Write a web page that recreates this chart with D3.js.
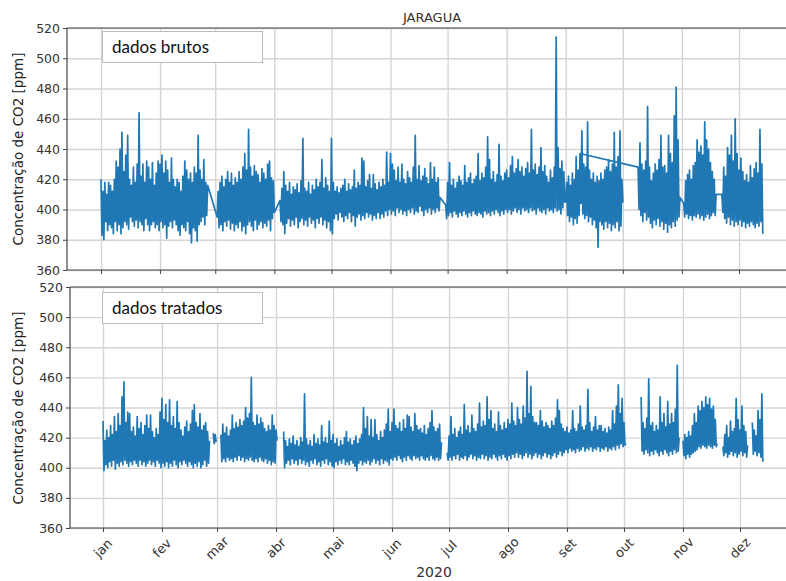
<!DOCTYPE html>
<html>
<head>
<meta charset="utf-8">
<script src="https://cdnjs.cloudflare.com/ajax/libs/d3/7.8.5/d3.min.js"></script>
<style>
body { margin: 0; background: #fff; }
svg { display: block; }
</style>
</head>
<body>
<script>
var monthLabels = ['jan', 'fev', 'mar', 'abr', 'mai', 'jun', 'jul', 'ago', 'set', 'out', 'nov', 'dez'];
var yTicks = [360, 380, 400, 420, 440, 460, 480, 500, 520];
var title = 'JARAGUA';
var yLabel = 'Concentração de CO2 [ppm]';
var yearLabel = '2020';
var boxLabels = ['dados brutos', 'dados tratados'];

// each block: start day of year (0 = 1 jan), then one value every 12 h
// raw blocks are drawn in the order they were recorded
var rawStarts = [0, 61, 94, 181, 252, 244, 282, 306, 326];
var rawJanFev = [420,383,412,380,418,392,410,386,418,390,416,388,412,384,420,392,432,386,428,390,440,384,451,388,425,392,436,390,449,387,420,395,416,392,428,389,418,393,430,388,464,392,422,390,430,386,418,394,432,390,428,386,420,390,431,392,416,388,424,390,432,386,
  430,392,436,388,424,390,432,381,426,389,418,392,434,388,420,393,415,390,420,386,418,383,412,390,422,388,432,386,426,392,420,384,424,378,418,388,428,386,424,379,449,390,426,392,420,395,433,390,418,396,416];
var rawMar = [395,412,388,418,390,422,386,415,392,420,389,425,393,418,387,424,391,416,386,421,390,418,388,425,392,420,386,428,389,437,384,426,390,453,392,428,389,422,386,429,393,425,387,423,390,418,392,427,388,424,391,420,389,430,393,432,386,421,394,419,398];
var rawAbrJun = [406,392,414,390,425,384,416,391,412,394,418,389,410,393,415,390,413,395,417,388,411,392,419,394,447,390,414,393,412,389,418,395,410,391,416,393,413,388,420,394,415,391,418,395,433,390,414,393,421,388,416,392,412,386,447,384,
  418,394,412,397,415,393,411,398,414,395,416,392,420,396,412,394,417,398,413,392,415,396,426,389,414,395,418,397,416,393,434,396,432,394,415,398,419,395,423,397,414,393,423,396,417,394,413,398,418,394,415,397,420,395,416,399,438,396,418,400,
  437,397,430,399,426,396,419,401,428,398,418,400,430,397,420,399,417,396,425,400,421,398,418,401,428,397,449,399,420,398,429,402,419,399,422,396,427,400,421,398,417,401,431,397,420,400,428,398,418,401,421,399,408];
var rawJulAgo = [403,394,418,396,431,398,416,395,420,399,414,397,418,395,422,398,419,396,416,399,429,397,418,395,421,398,424,396,417,399,420,397,422,396,437,398,419,397,424,395,421,399,428,397,448,398,433,396,420,399,425,397,418,400,423,398,443,396,422,399,419,397,424,400,
  426,398,421,400,429,397,435,399,424,401,427,398,433,400,425,397,428,401,422,399,427,400,431,398,424,401,453,399,426,400,430,397,423,401,428,399,441,398,425,400,429,397,422,401,418,399,426,400,421,398,428,401,514,399,441,400,427,397,432,401,425,405];
var rawSetB = [404,452,397,430,394,428,396,458,392,426,395,420,390,424,393,418,388,422,375,419,392,424,390,420,387,426,392,428,388,433,391,425,386,430,390,451,388,428,392,435,386,452,389,420,405];
var rawSetA = [405,418,396,422,392,416,395,424,390,420,394,435,391,426,396,437];
var rawOut = [428,400,444,396,430,392,426,398,432,393,468,395,428,391,419,388,424,393,430,390,426,394,433,389,449,392,428,387,429,391,424,385,449,390,437,388,431,392,462,389,481,393,446,395,408];
var rawNov = [404,395,419,397,423,394,426,396,420,393,429,396,431,395,446,397,438,394,442,396,436,393,458,395,446,397,440,394,431,396,425,398,420,396,410];
var rawNovDez = [410,398,428,394,422,391,441,395,436,390,449,393,432,389,460,392,437,390,426,393,434,389,425,392,419,388,423,391,418,389,429,392,421,390,427,388,431,391,424,389,453,392,430,384];

var cleanStarts = [0, 58, 62, 95, 181, 283, 305, 326, 341.5];
var cleanJanFev = [431,398,418,402,425,400,420,404,428,401,422,405,434,399,424,403,436,401,428,404,447,402,457,405,430,403,437,401,436,404,424,402,427,405,421,403,434,401,426,405,430,402,422,404,428,401,435,403,426,405,435,402,424,404,420,401,426,405,422,403,437,400,
  446,403,432,401,442,404,430,400,445,403,428,401,434,405,426,402,444,400,430,404,425,402,421,405,427,403,431,401,424,404,429,402,438,400,442,403,430,401,427,404,436,400,425,402,428,405,430,401,424,403,418];
var cleanFevEnd = [423,416,422,417];
var cleanMar = [422,404,429,406,423,404,427,407,421,405,425,406,435,404,426,407,430,405,427,408,432,405,428,407,431,404,440,406,433,405,436,407,460,405,430,404,428,406,435,404,429,407,433,405,430,404,426,406,424,403,428,405,425,402,435,404,428,403,425,418];
var cleanAbrJun = [424,400,418,403,414,405,419,402,416,406,421,403,415,405,418,402,414,406,420,403,417,405,449,402,419,404,415,401,418,405,414,403,422,406,416,402,419,404,415,401,428,405,417,403,420,406,416,402,431,404,418,401,422,400,
  416,404,419,402,414,405,418,403,415,406,420,402,424,404,417,402,419,405,415,403,418,401,421,398,416,403,419,405,422,402,440,404,426,403,434,405,421,402,432,404,420,406,432,403,422,405,418,402,424,406,420,403,425,405,429,404,439,402,424,406,
  430,405,439,407,428,405,426,408,430,406,424,404,432,407,426,405,435,408,434,406,427,405,424,408,436,406,428,407,425,405,426,408,423,406,428,405,422,407,426,405,430,408,438,406,427,405,424,407,426,405,429,406,417];
var cleanJulSet = [410,405,421,407,434,405,422,408,426,406,420,409,424,405,427,407,422,406,442,408,425,405,428,407,423,409,435,406,426,408,424,405,429,407,443,406,427,409,431,406,428,408,447,405,432,407,438,406,426,409,429,407,424,405,437,408,428,406,425,409,430,407,426,405,
  432,408,429,406,443,409,431,407,428,410,440,407,432,409,429,406,441,408,433,410,464,407,436,409,454,406,434,408,430,410,430,407,428,409,438,406,431,408,427,410,430,407,428,409,426,406,431,408,428,410,433,407,445,409,438,411,429,408,426,410,
  424,412,427,410,423,413,425,411,438,412,426,410,424,413,429,411,441,412,427,414,425,411,428,413,452,412,430,414,424,411,427,413,434,412,425,414,428,411,428,413,424,412,426,414,423,411,427,413,425,412,438,414,429,412,441,415,455,413,436,416,446,414,430,415,416];
var cleanOut = [447,411,430,409,426,412,433,410,459,408,428,411,430,409,424,412,428,410,425,408,447,411,430,409,436,412,427,410,444,408,429,411,436,409,430,412,439,410,468,411,420];
var cleanNov = [418,408,422,406,420,409,424,407,421,409,428,410,436,411,430,412,441,414,438,413,444,415,440,414,447,413,442,415,446,414,439,413,441,415,432,414,416];
var cleanNovDez = [414,408,422,410,428,407,420,409,431,411,424,408,426,410,446,407,432,409,425,411,441,408,428,410,424,407,415];
var cleanDez = [430,409,425,411,421,408,438,410,432,407,449,404];

var rawBlocks = [rawJanFev, rawMar, rawAbrJun, rawJulAgo, rawSetB, rawSetA, rawOut, rawNov, rawNovDez];
var cleanBlocks = [cleanJanFev, cleanFevEnd, cleanMar, cleanAbrJun, cleanJulSet, cleanOut, cleanNov, cleanNovDez, cleanDez];

var svgWidth = 786;
var svgHeight = 581;
var day0 = Date.UTC(2020, 0, 1);
var dayMs = 86400000;

function toPoints(starts, blocks) {
  return blocks.map(function(vals, b) {
    return vals.map(function(v, i) {
      return {date: new Date(day0 + (starts[b] + i / 2) * dayMs), value: v};
    });
  });
}

var rawSeries = [[].concat.apply([], toPoints(rawStarts, rawBlocks))];
var cleanSeries = toPoints(cleanStarts, cleanBlocks);

var svg = d3.select('body').append('svg')
  .attr('width', svgWidth)
  .attr('height', svgHeight)
  .style('font-family', 'DejaVu Sans, sans-serif');

var panels = [
  {left: 67, top: 28, bottom: 270, x0: 101, x1: 739, series: rawSeries, box: boxLabels[0], boxY: 31, labels: false, labelY: 149},
  {left: 70, top: 287, bottom: 528, x0: 103, x1: 740, series: cleanSeries, box: boxLabels[1], boxY: 292, labels: true, labelY: 408}
];

var months = d3.utcMonths(new Date(day0), new Date(Date.UTC(2020, 11, 2)));

panels.forEach(function(p) {
  var xScale = d3.scaleUtc()
    .domain([new Date(day0), new Date(Date.UTC(2020, 11, 1))])
    .range([p.x0, p.x1]);
  var yScale = d3.scaleLinear()
    .domain([360, 520])
    .range([p.bottom, p.top]);

  // grid
  svg.append('g')
    .attr('transform', 'translate(' + p.left + ',0)')
    .call(d3.axisLeft(yScale).tickValues(yTicks).tickSize(-(svgWidth - p.left)).tickFormat(''))
    .call(function(g) { g.select('.domain').remove(); })
    .selectAll('line').attr('stroke', '#d4d4d4').attr('stroke-width', 1.4);
  svg.append('g')
    .attr('transform', 'translate(0,' + p.bottom + ')')
    .call(d3.axisBottom(xScale).tickValues(months).tickSize(-(p.bottom - p.top)).tickFormat(''))
    .call(function(g) { g.select('.domain').remove(); })
    .selectAll('line').attr('stroke', '#d4d4d4').attr('stroke-width', 1.4);

  var line = d3.line()
    .x(function(d) { return xScale(d.date); })
    .y(function(d) { return yScale(d.value); });

  svg.append('g').selectAll('path')
    .data(p.series)
    .enter()
    .append('path')
      .attr('d', line)
      .attr('fill', 'none')
      .attr('stroke', '#1f77b4')
      .attr('stroke-width', 1.7)
      .attr('stroke-linejoin', 'round');

  // axes
  var yAxis = svg.append('g')
    .attr('transform', 'translate(' + p.left + ',0)')
    .call(d3.axisLeft(yScale).tickValues(yTicks).tickSize(4).tickPadding(3).tickSizeOuter(0));
  yAxis.select('.domain').remove();
  yAxis.selectAll('line').attr('stroke', '#444');
  yAxis.selectAll('text')
    .attr('fill', '#333')
    .style('font-size', '12.5px')
    .style('font-family', 'DejaVu Sans, sans-serif');

  var xAxis = svg.append('g')
    .attr('transform', 'translate(0,' + p.bottom + ')')
    .call(d3.axisBottom(xScale).tickValues(months).tickSize(4).tickFormat(''));
  xAxis.select('.domain').remove();
  xAxis.selectAll('line').attr('stroke', '#444');

  if (p.labels) {
    svg.append('g').selectAll('text')
      .data(months)
      .enter()
      .append('text')
        .attr('transform', function(d) { return 'translate(' + xScale(d) + ',' + (p.bottom + 20) + ') rotate(-45)'; })
        .attr('text-anchor', 'middle')
        .attr('dominant-baseline', 'central')
        .attr('fill', '#333')
        .style('font-size', '13px')
        .text(function(d) { return monthLabels[d.getUTCMonth()]; });
  }

  // frame
  svg.append('line')
    .attr('x1', p.left).attr('x2', p.left).attr('y1', p.top).attr('y2', p.bottom)
    .attr('stroke', '#444').attr('stroke-width', 1.2);
  svg.append('line')
    .attr('x1', p.left).attr('x2', svgWidth).attr('y1', p.top).attr('y2', p.top)
    .attr('stroke', '#444').attr('stroke-width', 1.2);
  svg.append('line')
    .attr('x1', p.left).attr('x2', svgWidth).attr('y1', p.bottom).attr('y2', p.bottom)
    .attr('stroke', '#444').attr('stroke-width', 1.2);

  svg.append('text')
    .attr('transform', 'translate(18,' + p.labelY + ') rotate(-90)')
    .attr('text-anchor', 'middle')
    .attr('dominant-baseline', 'central')
    .attr('fill', '#222')
    .style('font-size', '13.5px')
    .text(yLabel);

  svg.append('rect')
    .attr('x', 102.5).attr('y', p.boxY + 0.5)
    .attr('width', 160).attr('height', 31)
    .attr('fill', '#fff')
    .attr('stroke', '#bdbdbd');
  svg.append('text')
    .attr('x', 112).attr('y', p.boxY + 22)
    .attr('fill', '#111')
    .style('font-family', 'Lato, sans-serif')
    .style('font-size', '17px')
    .text(p.box);
});

svg.append('text')
  .attr('x', 432).attr('y', 22)
  .attr('text-anchor', 'middle')
  .attr('fill', '#333')
  .style('font-size', '13px')
  .text(title);

svg.append('text')
  .attr('x', 434).attr('y', 572)
  .attr('text-anchor', 'middle')
  .attr('dominant-baseline', 'central')
  .attr('fill', '#333')
  .style('font-size', '14px')
  .text(yearLabel);
</script>
</body>
</html>
